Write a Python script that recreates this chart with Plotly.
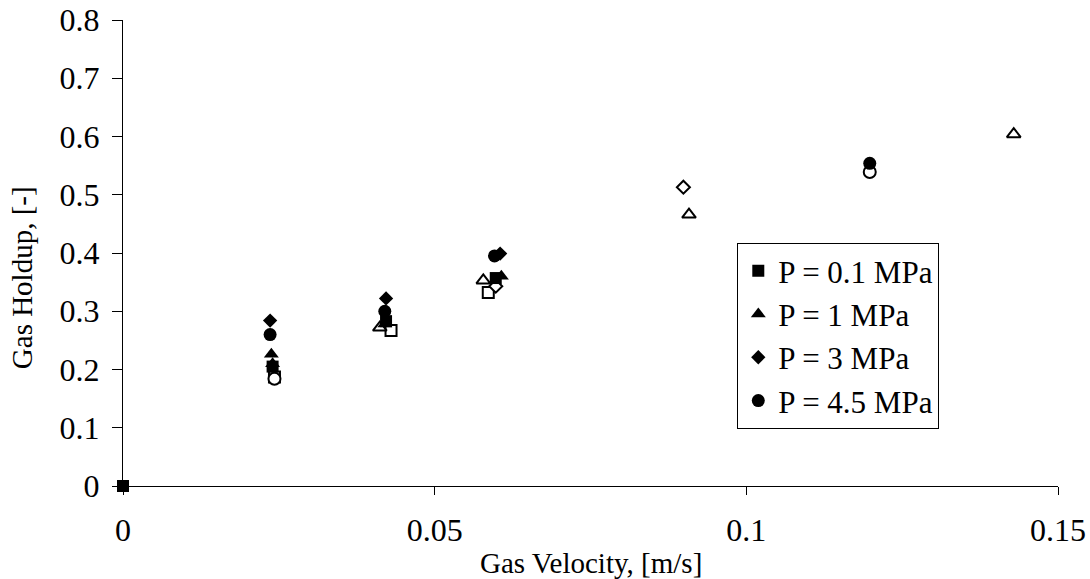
import plotly.graph_objects as go

# ---- data ----
# filled markers (shown in legend)
sq_fill_x = [0.0, 0.0240, 0.0422, 0.0598]
sq_fill_y = [0.0, 0.205, 0.283, 0.357]
tri_fill_x = [0.0238, 0.0240, 0.0420, 0.0607]
tri_fill_y = [0.226, 0.210, 0.278, 0.360]
dia_fill_x = [0.0236, 0.0422, 0.0605]
dia_fill_y = [0.284, 0.322, 0.399]
cir_fill_x = [0.0236, 0.0420, 0.0596, 0.1198]
cir_fill_y = [0.260, 0.300, 0.395, 0.554]

# open markers (not in legend)
sq_open_x = [0.0243, 0.0430, 0.0586]
sq_open_y = [0.187, 0.267, 0.332]
tri_open_x = [0.0412, 0.0578, 0.0908, 0.1429]
tri_open_y = [0.272, 0.353, 0.466, 0.604]
dia_open_x = [0.0598, 0.0899]
dia_open_y = [0.343, 0.513]
cir_open_x = [0.0243, 0.1198]
cir_open_y = [0.184, 0.539]

legend_names = ["P = 0.1 MPa", "P = 1 MPa", "P = 3 MPa", "P = 4.5 MPa"]
x_ticks = [0, 0.05, 0.1, 0.15]
x_ticktext = ["0", "0.05", "0.1", "0.15"]
y_ticks = [0, 0.1, 0.2, 0.3, 0.4, 0.5, 0.6, 0.7, 0.8]
y_ticktext = ["0", "0.1", "0.2", "0.3", "0.4", "0.5", "0.6", "0.7", "0.8"]

FONT = "Liberation Serif"
sizes = {"square": 12, "triangle-up": 13, "diamond": 11, "circle": 13}

fig = go.Figure()

open_sets = [(sq_open_x, sq_open_y, "square"), (tri_open_x, tri_open_y, "triangle-up"),
             (dia_open_x, dia_open_y, "diamond"), (cir_open_x, cir_open_y, "circle")]
for xs, ys, sym in open_sets:
    fig.add_trace(go.Scatter(
        x=xs, y=ys, mode="markers", showlegend=False, cliponaxis=False,
        marker=dict(symbol=sym, size=sizes[sym] - 1, color="white",
                    line=dict(color="black", width=2))))

fill_sets = [(sq_fill_x, sq_fill_y, "square"), (tri_fill_x, tri_fill_y, "triangle-up"),
             (dia_fill_x, dia_fill_y, "diamond"), (cir_fill_x, cir_fill_y, "circle")]
for (xs, ys, sym), name in zip(fill_sets, legend_names):
    fig.add_trace(go.Scatter(
        x=xs, y=ys, mode="markers", name=name, cliponaxis=False,
        marker=dict(symbol=sym, size=sizes[sym], color="black",
                    line=dict(color="black", width=0))))

axis_common = dict(showline=True, linecolor="black", linewidth=1, ticks="outside",
                   tickcolor="black", tickwidth=1, showgrid=False, zeroline=False,
                   automargin=False,
                   tickfont=dict(family=FONT, size=32, color="black"))

fig.update_layout(
    width=1090, height=579, autosize=False,
    margin=dict(l=123, r=32, t=20, b=93),
    paper_bgcolor="white", plot_bgcolor="white",
    font=dict(family=FONT, color="black"),
    xaxis=dict(range=[0, 0.15], tickvals=x_ticks, ticktext=x_ticktext,
               ticklen=8, ticklabelstandoff=8, **axis_common),
    yaxis=dict(range=[0, 0.8], tickvals=y_ticks, ticktext=y_ticktext,
               ticklen=10, ticklabelstandoff=6, **axis_common),
    legend=dict(x=0.657, y=0.5215, xanchor="left", yanchor="top",
                bgcolor="white", bordercolor="black", borderwidth=1,
                font=dict(family=FONT, size=31, color="black"),
                tracegroupgap=0, itemwidth=30),
    annotations=[
        dict(text="Gas Velocity, [m/s]", xref="paper", yref="paper", x=0.5, y=-0.165,
             xanchor="center", yanchor="middle", showarrow=False,
             font=dict(family=FONT, size=29, color="black")),
        dict(text="Gas Holdup, [-]", xref="paper", yref="paper", x=-0.108, y=0.446,
             xanchor="center", yanchor="middle", showarrow=False, textangle=-90,
             font=dict(family=FONT, size=29, color="black")),
    ],
)

fig.write_html("out.html")
